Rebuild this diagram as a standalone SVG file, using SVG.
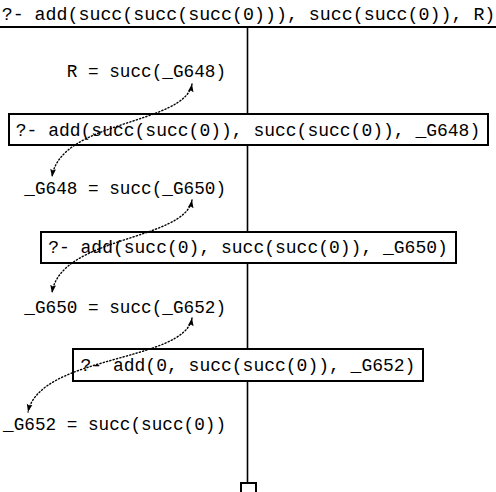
<svg xmlns="http://www.w3.org/2000/svg" width="496" height="492" viewBox="0 0 496 492">
<style>
text{font-family:"Liberation Mono","DejaVu Sans Mono",monospace;font-size:18px;fill:#000}
.mid{text-anchor:middle}
.lbl{text-anchor:end;font-size:17.7px}
.box{fill:#fff;stroke:#000;stroke-width:2}
.tree{stroke:#000;fill:none}
.dot{fill:none;stroke:#000;stroke-width:1.4;stroke-dasharray:1.2 2.2;stroke-linecap:round}
</style>
<defs>
<marker id="ah" markerUnits="userSpaceOnUse" markerWidth="8" markerHeight="7" viewBox="0 0 8 7" refX="8" refY="3.5" orient="auto-start-reverse">
<path d="M0,0.6 L8,3.5 L0,6.4 L1.5,3.5 z" fill="#000"/>
</marker>
</defs>
<g id="tree-lines">
<line class="tree" x1="0" y1="27" x2="496" y2="27" stroke-width="2"/>
<line class="tree" x1="247.5" y1="27" x2="247.5" y2="483" stroke-width="1.6"/>
</g>
<g id="root">
<text class="mid" x="248.5" y="20" style="font-size:18.3px">?- add(succ(succ(succ(0))), succ(succ(0)), R)</text>
</g>
<g id="label1"><text class="lbl" x="226" y="77">R = succ(_G648)</text></g>
<g id="goal1">
<rect class="box" x="9" y="114" width="479" height="31"/>
<text class="mid" x="248" y="136">?- add(succ(succ(0)), succ(succ(0)), _G648)</text>
</g>
<g id="label2"><text class="lbl" x="226" y="194">_G648 = succ(_G650)</text></g>
<g id="goal2">
<rect class="box" x="41" y="232" width="415" height="31"/>
<text class="mid" x="248" y="253">?- add(succ(0), succ(succ(0)), _G650)</text>
</g>
<g id="label3"><text class="lbl" x="226" y="313">_G650 = succ(_G652)</text></g>
<g id="goal3">
<rect class="box" x="73" y="349" width="350" height="32"/>
<text class="mid" x="248" y="371">?- add(0, succ(succ(0)), _G652)</text>
</g>
<g id="label4"><text class="lbl" x="226" y="430">_G652 = succ(succ(0))</text></g>
<g id="leaf">
<rect x="241" y="483" width="15" height="15" fill="#fff" stroke="#000" stroke-width="2"/>
</g>
<g id="connectors">
<path class="dot" d="M192,84 C185,125 60,120 52,177" marker-start="url(#ah)" marker-end="url(#ah)"/>
<path class="dot" d="M192,200 C185,241 60,236 52,293" marker-start="url(#ah)" marker-end="url(#ah)"/>
<path class="dot" d="M192,318 C185,362 40,355 28,412" marker-start="url(#ah)" marker-end="url(#ah)"/>
</g>
</svg>
